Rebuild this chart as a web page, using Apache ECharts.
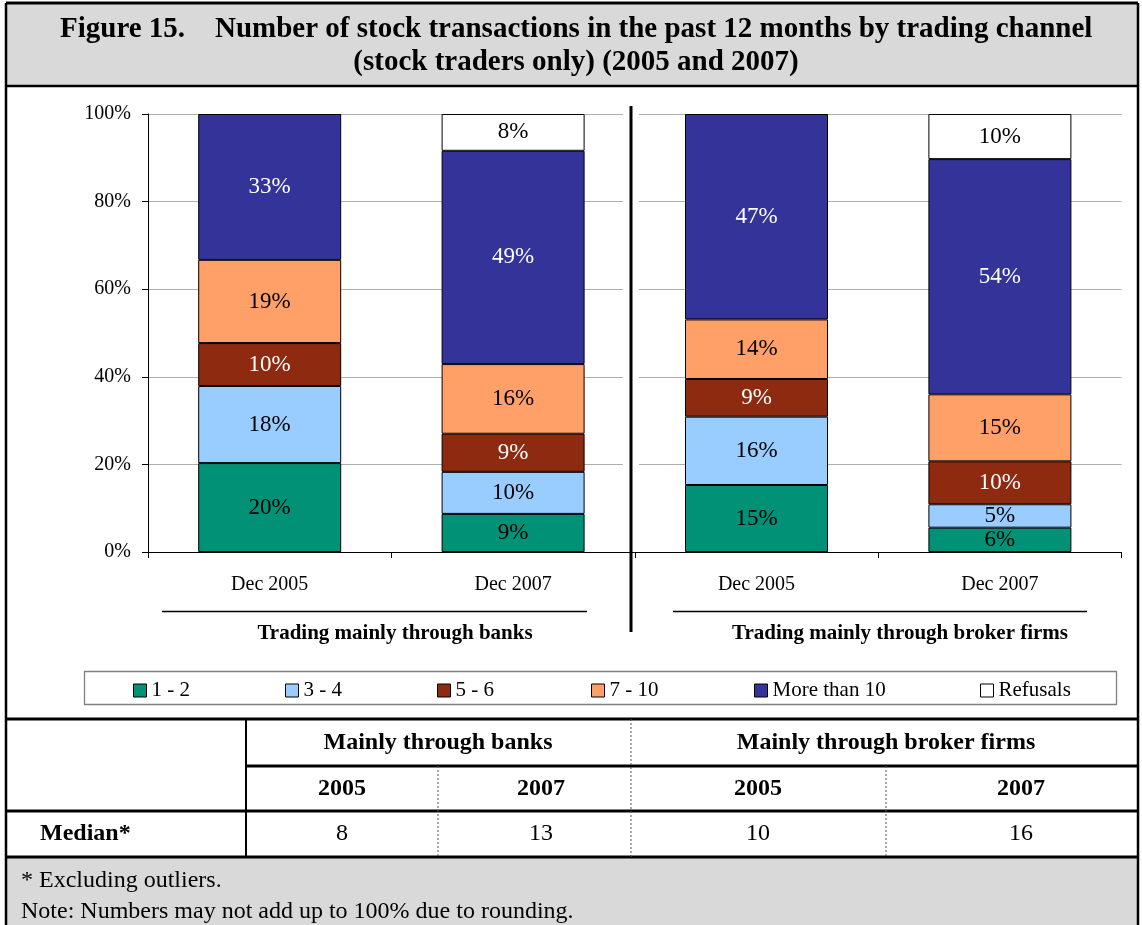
<!DOCTYPE html>
<html>
<head>
<meta charset="utf-8">
<script src="https://cdn.jsdelivr.net/npm/echarts@6/dist/echarts.min.js"></script>
<style>
html,body{margin:0;padding:0;background:#fff;}
#chart{width:1142px;height:925px;}
</style>
</head>
<body>
<div id="chart"></div>
<script>
// ---- data ----
const titleLabel = 'Figure 15.';
const titleLine1 = 'Number of stock transactions in the past 12 months by trading channel';
const titleLine2 = '(stock traders only) (2005 and 2007)';
const categories = ['Dec 2005', 'Dec 2007', 'Dec 2005', 'Dec 2007'];
const groupLabels = ['Trading mainly through banks', 'Trading mainly through broker firms'];
const seriesNames = ['1 - 2', '3 - 4', '5 - 6', '7 - 10', 'More than 10', 'Refusals'];
const s1to2 = [20.3, 8.7, 15.3, 5.55];
const s3to4 = [17.6, 9.6, 15.6, 5.35];
const s5to6 = [9.8, 8.7, 8.6, 9.8];
const s7to10 = [19.0, 15.9, 13.6, 15.3];
const sMoreThan10 = [33.3, 48.7, 46.9, 53.7];
const sRefusals = [null, 8.4, null, 10.3];
const yTicks = [0, 20, 40, 60, 80, 100];
const tableGroups = ['Mainly through banks', 'Mainly through broker firms'];
const tableYears = ['2005', '2007', '2005', '2007'];
const medianLabel = 'Median*';
const medians = [8, 13, 10, 16];
const footnotes = ['* Excluding outliers.', 'Note: Numbers may not add up to 100% due to rounding.'];

// ---- styles / layout ----
const FONT = '"Liberation Serif", "Times New Roman", serif';
const colors = ['#009176', '#99CCFF', '#8E2A0F', '#FFA068', '#333399', '#FFFFFF'];
const labelColors = ['#000', '#000', '#fff', '#000', '#fff', '#000'];
const legendLefts = [133, 285, 437, 591, 754, 980];
const tableColX = [342, 541, 758, 1021];
const seriesData = [s1to2, s3to4, s5to6, s7to10, sMoreThan10, sRefusals];

const chart = echarts.init(document.getElementById('chart'), null, {renderer: 'canvas'});

const series = seriesNames.map((name, i) => ({
  name: name,
  type: 'bar',
  stack: 'total',
  barWidth: 143,
  data: seriesData[i],
  itemStyle: {color: colors[i], borderColor: '#000', borderWidth: 1},
  label: {
    show: true,
    position: 'inside',
    fontFamily: FONT,
    fontSize: 23,
    color: labelColors[i],
    formatter: p => (p.value == null ? '' : Math.round(p.value) + '%')
  },
  emphasis: {disabled: true}
}));

const legends = seriesNames.map((name, i) => ({
  data: [name],
  left: legendLefts[i], top: 680,
  padding: 0,
  itemWidth: 13, itemHeight: 13,
  icon: 'rect',
  itemStyle: {borderColor: '#000', borderWidth: 1},
  textStyle: {fontFamily: FONT, fontSize: 21, color: '#000', lineHeight: 18},
  selectedMode: false
}));

function txt(text, x, y, opts) {
  opts = opts || {};
  return {
    type: 'text', z: 110,
    style: {
      text: text, x: x, y: y,
      fontFamily: FONT,
      fontSize: opts.size || 20,
      fontWeight: opts.bold ? 'bold' : 'normal',
      fill: '#000',
      align: opts.align || 'center',
      verticalAlign: 'middle'
    }
  };
}
function line(x1, y1, x2, y2, w, dash, color) {
  return {
    type: 'line', z: 105,
    shape: {x1: x1, y1: y1, x2: x2, y2: y2},
    style: {stroke: color || '#000', lineWidth: w || 1, lineDash: dash || null}
  };
}

const graphics = [
  {type: 'rect', z: 100, shape: {x: 6, y: 4, width: 1132, height: 82}, style: {fill: '#D9D9D9'}},
  {type: 'rect', z: 100, shape: {x: 6, y: 857, width: 1132, height: 70}, style: {fill: '#D9D9D9'}},
  line(6, 3, 1138, 3, 3),
  line(6, 3, 6, 925, 2.5),
  line(1138, 3, 1138, 925, 2.5),
  line(6, 86, 1138, 86, 2.5),
  txt(titleLabel, 60, 30, {size: 29, bold: true, align: 'left'}),
  txt(titleLine1, 215, 30, {size: 29, bold: true, align: 'left'}),
  txt(titleLine2, 576, 63, {size: 29, bold: true}),
  {type: 'rect', z: 100, shape: {x: 623, y: 110, width: 16, height: 441}, style: {fill: '#fff'}},
  line(631, 106, 631, 632, 3),
  line(162, 611.5, 587, 611.5, 1.3),
  line(673, 611.5, 1087, 611.5, 1.3),
  txt(groupLabels[0], 395, 634, {size: 21, bold: true}),
  txt(groupLabels[1], 900, 634, {size: 21, bold: true}),
  {type: 'rect', z: 100, shape: {x: 84.5, y: 671.5, width: 1032, height: 33}, style: {fill: null, stroke: '#808080', lineWidth: 1.3}},
  line(6, 719, 1138, 719, 3),
  line(246, 766, 1138, 766, 3),
  line(6, 811, 1138, 811, 3),
  line(6, 857, 1138, 857, 3),
  line(246, 719, 246, 857, 2),
  line(631, 719, 631, 857, 1, [2, 2], '#555'),
  line(438, 766, 438, 857, 1, [2, 2], '#555'),
  line(886, 766, 886, 857, 1, [2, 2], '#555'),
  txt(tableGroups[0], 438, 743, {size: 24, bold: true}),
  txt(tableGroups[1], 886, 743, {size: 24, bold: true}),
  txt(medianLabel, 40, 834, {size: 24, bold: true, align: 'left'}),
  txt(footnotes[0], 21, 881, {size: 24, align: 'left'}),
  txt(footnotes[1], 21, 912, {size: 24, align: 'left'})
];
tableYears.forEach((y, i) => graphics.push(txt(y, tableColX[i], 789, {size: 24, bold: true})));
medians.forEach((m, i) => graphics.push(txt(String(m), tableColX[i], 834, {size: 24})));

const option = {
  animation: false,
  backgroundColor: '#fff',
  grid: {left: 148, top: 114, width: 973.6, height: 438, containLabel: false},
  legend: legends,
  xAxis: {
    type: 'category',
    data: categories,
    axisLine: {lineStyle: {color: '#000', width: 1}},
    axisTick: {show: true, length: 6, lineStyle: {color: '#000'}},
    axisLabel: {margin: 23, fontFamily: FONT, fontSize: 20, color: '#000'},
    splitLine: {show: false}
  },
  yAxis: {
    type: 'value',
    min: yTicks[0], max: yTicks[yTicks.length - 1], interval: yTicks[1] - yTicks[0],
    axisLine: {show: true, lineStyle: {color: '#000', width: 1}},
    axisTick: {show: true, length: 6, lineStyle: {color: '#000'}},
    axisLabel: {margin: 17, fontFamily: FONT, fontSize: 20, color: '#000', formatter: '{value}%'},
    splitLine: {show: true, lineStyle: {color: '#AFAFAF', width: 1}}
  },
  series: series,
  graphic: {elements: graphics}
};
chart.setOption(option);
</script>
</body>
</html>
